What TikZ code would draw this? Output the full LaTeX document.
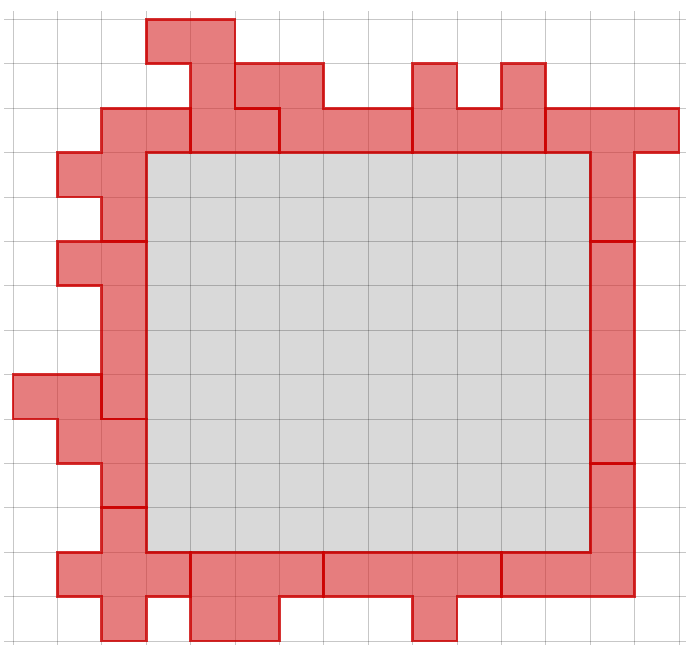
\documentclass[tikz,border=0pt]{standalone}
\definecolor{tabred}{HTML}{D62728}
\definecolor{edgered}{HTML}{CC0000}
\definecolor{boxgray}{HTML}{D9D9D9}
\tikzset{
  piece/.style={fill=tabred, fill opacity=0.6, draw=edgered, draw opacity=0.8, line width=1.8pt, line join=miter},
  gridline/.style={draw=black, draw opacity=0.22, line width=0.6pt},
  board/.style={fill=boxgray, draw=black!45, line width=0.9pt}
}
\begin{document}
\begin{tikzpicture}[x=1cm,y=1cm]
\useasboundingbox (-0.293,-0.09) rectangle (15.158,14.437);
\clip (-0.293,-0.09) rectangle (15.158,14.437);
% central rectangle
\path[board] (3,2) rectangle (13,11);
% grid
\foreach \k in {0,...,15} { \draw[gridline] (\k,-0.2) -- (\k,14.2); }
\foreach \k in {0,...,14} { \draw[gridline] (-0.2,\k) -- (15.3,\k); }
% pentominoes
% Z
\path[piece] (3,14) -- (5,14) -- (5,12) -- (6,12) -- (6,11) -- (4,11) -- (4,13) -- (3,13) -- cycle;
% N
\path[piece] (5,13) -- (7,13) -- (7,12) -- (9,12) -- (9,11) -- (6,11) -- (6,12) -- (5,12) -- cycle;
% U
\path[piece] (9,13) -- (10,13) -- (10,12) -- (11,12) -- (11,13) -- (12,13) -- (12,11) -- (9,11) -- cycle;
% T
\path[piece] (12,12) -- (15,12) -- (15,11) -- (14,11) -- (14,9) -- (13,9) -- (13,11) -- (12,11) -- cycle;
% F
\path[piece] (2,12) -- (4,12) -- (4,11) -- (3,11) -- (3,9) -- (2,9) -- (2,10) -- (1,10) -- (1,11) -- (2,11) -- cycle;
% L
\path[piece] (1,9) -- (3,9) -- (3,5) -- (2,5) -- (2,8) -- (1,8) -- cycle;
% W
\path[piece] (0,6) -- (2,6) -- (2,5) -- (3,5) -- (3,3) -- (2,3) -- (2,4) -- (1,4) -- (1,5) -- (0,5) -- cycle;
% X
\path[piece] (2,3) -- (3,3) -- (3,2) -- (4,2) -- (4,1) -- (3,1) -- (3,0) -- (2,0) -- (2,1) -- (1,1) -- (1,2) -- (2,2) -- cycle;
% P
\path[piece] (4,2) -- (7,2) -- (7,1) -- (6,1) -- (6,0) -- (4,0) -- cycle;
% Y
\path[piece] (7,2) -- (11,2) -- (11,1) -- (10,1) -- (10,0) -- (9,0) -- (9,1) -- (7,1) -- cycle;
% V
\path[piece] (13,4) -- (14,4) -- (14,1) -- (11,1) -- (11,2) -- (13,2) -- cycle;
% I
\path[piece] (13,9) -- (14,9) -- (14,4) -- (13,4) -- cycle;
\end{tikzpicture}
\end{document}
